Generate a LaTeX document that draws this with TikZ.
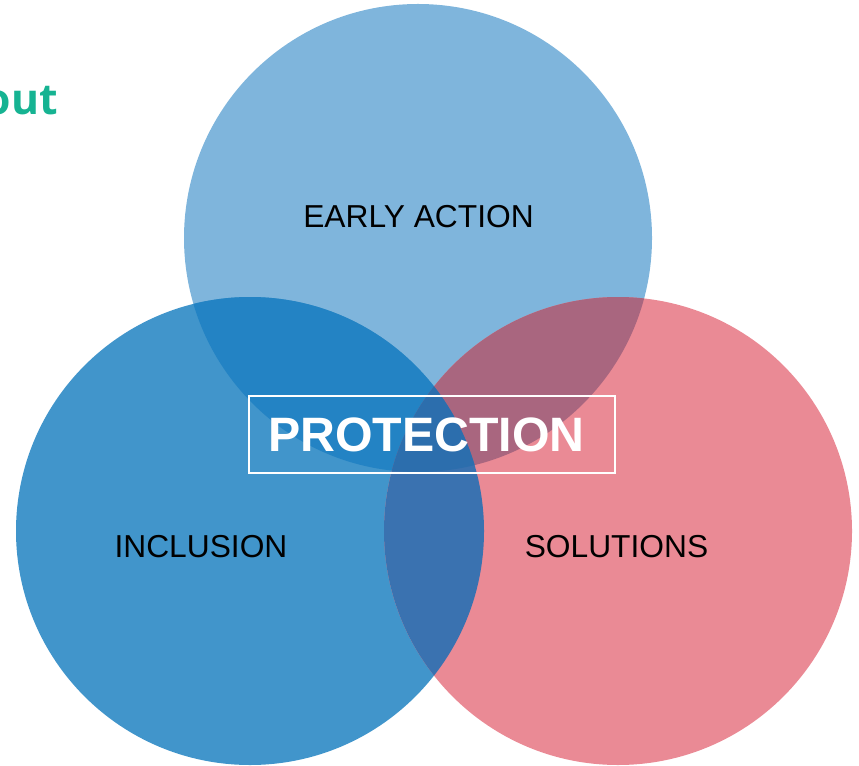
\documentclass[tikz,border=0pt]{standalone}
\usepackage{fontspec}
\setmainfont{Liberation Sans}
\newfontfamily\headfont{Open Sans}
\usepackage{xcolor}

\definecolor{topblue}{HTML}{7FB5DC}
\definecolor{leftblue}{HTML}{4195CB}
\definecolor{rightpink}{HTML}{EA8A95}
\definecolor{topleft}{HTML}{2383C4}
\definecolor{topright}{HTML}{A9667F}
\definecolor{leftright}{HTML}{3A72B0}
\definecolor{middle}{HTML}{2C6EAD}
\definecolor{teal}{HTML}{16B392}

\begin{document}
\begin{tikzpicture}[x=0.75pt, y=0.75pt,
      every node/.style = {inner sep=0pt, font=\fontsize{23.8}{28}\selectfont},
      frame/.style = {draw=white, line width=1.4pt, minimum width=274.5pt, minimum height=57.75pt}
      ]
      \useasboundingbox (0,0) rectangle (859,765);
      \coordinate (ctop) at (418,527);
      \coordinate (cleft) at (250,234);
      \coordinate (cright) at (618,234);
      % circles
      \fill[topblue] (ctop) circle (234);
      \fill[leftblue] (cleft) circle (234);
      \fill[rightpink] (cright) circle (234);
      % overlaps
      \begin{scope}
            \clip (ctop) circle (234);
            \fill[topleft] (cleft) circle (234);
            \fill[topright] (cright) circle (234);
      \end{scope}
      \begin{scope}
            \clip (cleft) circle (234);
            \fill[leftright] (cright) circle (234);
      \end{scope}
      \begin{scope}
            \clip (ctop) circle (234);
            \clip (cleft) circle (234);
            \fill[middle] (cright) circle (234);
      \end{scope}
      % labels
      \node (early) at (418.5,548.5) {EARLY ACTION};
      \node (inclusion) at (201,218) {INCLUSION};
      \node (solutions) at (616.5,218) {SOLUTIONS};
      \node[frame] (box) at (432,330.5) {};
      \node[text=white, font=\fontsize{36.2}{40}\selectfont\bfseries] (protection) at (426.5,330.5) {PROTECTION};
      \node[anchor=base east, text=teal, font=\headfont\fontsize{32}{36}\selectfont\bfseries] (about) at (58,650) {out};
\end{tikzpicture}
\end{document}
